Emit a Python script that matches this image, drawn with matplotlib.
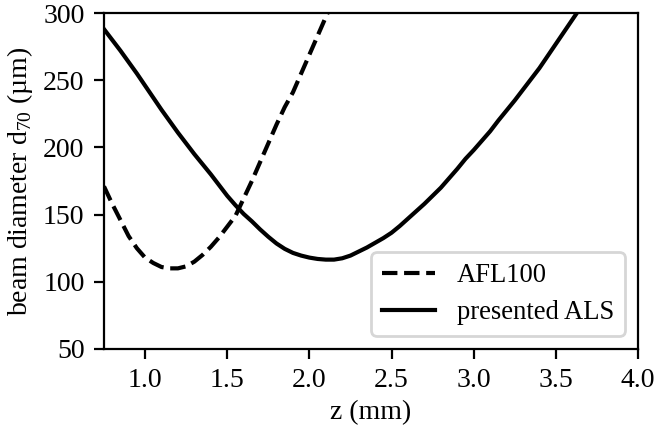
import matplotlib
matplotlib.use("Agg")
import matplotlib.pyplot as plt

# valeurs
z_afl = [0.75, 0.80, 0.85, 0.90, 0.95, 1.00, 1.05, 1.10, 1.15, 1.20,
         1.25, 1.30, 1.35, 1.40, 1.45, 1.50, 1.55, 1.60, 1.65, 1.70,
         1.75, 1.80, 1.85, 1.90, 1.95, 2.00, 2.05, 2.10, 2.15]
d_afl = [171, 158, 146, 134, 125, 118, 114, 111, 110, 110,
         111.5, 115, 120, 126, 133, 141, 149, 162, 175, 189,
         203, 217, 230, 241, 255, 269, 283, 297, 311]

z_als = [0.75, 0.80, 0.85, 0.90, 0.95, 1.00, 1.05, 1.10, 1.15, 1.20,
         1.25, 1.30, 1.35, 1.40, 1.45, 1.50, 1.55, 1.60, 1.65, 1.70,
         1.75, 1.80, 1.85, 1.90, 1.95, 2.00, 2.05, 2.10, 2.15, 2.20,
         2.25, 2.30, 2.35, 2.40, 2.45, 2.50, 2.55, 2.60, 2.65, 2.70,
         2.75, 2.80, 2.85, 2.90, 2.95, 3.00, 3.05, 3.10, 3.15, 3.20,
         3.25, 3.30, 3.35, 3.40, 3.45, 3.50, 3.55, 3.60, 3.65]
d_als = [288, 280, 272, 263.5, 255, 246, 237, 228, 219.5, 211,
         203, 195, 187.5, 180, 172, 164, 157, 150.5, 145, 139,
         133.5, 128.5, 124.5, 121.5, 119.5, 118, 117, 116.5, 116.5, 117.5,
         119.5, 122.5, 125.5, 129, 132.5, 136.5, 141.5, 147, 152.5, 158,
         164, 170, 177, 184, 191.5, 198, 205, 212, 220, 227.5,
         235, 243, 251, 259, 268, 277, 286, 295, 304]

plt.rcParams["font.family"] = ["Liberation Serif", "DejaVu Serif"]
plt.rcParams["font.size"] = 10

fig, ax = plt.subplots(figsize=(3.28, 2.14), dpi=200)
fig.subplots_adjust(left=0.1585, right=0.9726, top=0.9696, bottom=0.1846)

ax.plot(z_afl, d_afl, color="black", linestyle="--", linewidth=1.5, label="AFL100")
ax.plot(z_als, d_als, color="black", linestyle="-", linewidth=1.5, label="presented ALS")

ax.set_xlim(0.75, 4.0)
ax.set_ylim(50, 300)
ax.set_xticks([1.0, 1.5, 2.0, 2.5, 3.0, 3.5, 4.0])
ax.set_yticks([50, 100, 150, 200, 250, 300])
ax.set_xlabel("z (mm)", labelpad=2.5)
ax.set_ylabel("beam diameter d$_{\\mathregular{70}}$ (µm)", labelpad=3)
ax.legend(loc="lower right", fontsize=9.6, labelspacing=0.45)

fig.savefig("out.png", dpi=200)
